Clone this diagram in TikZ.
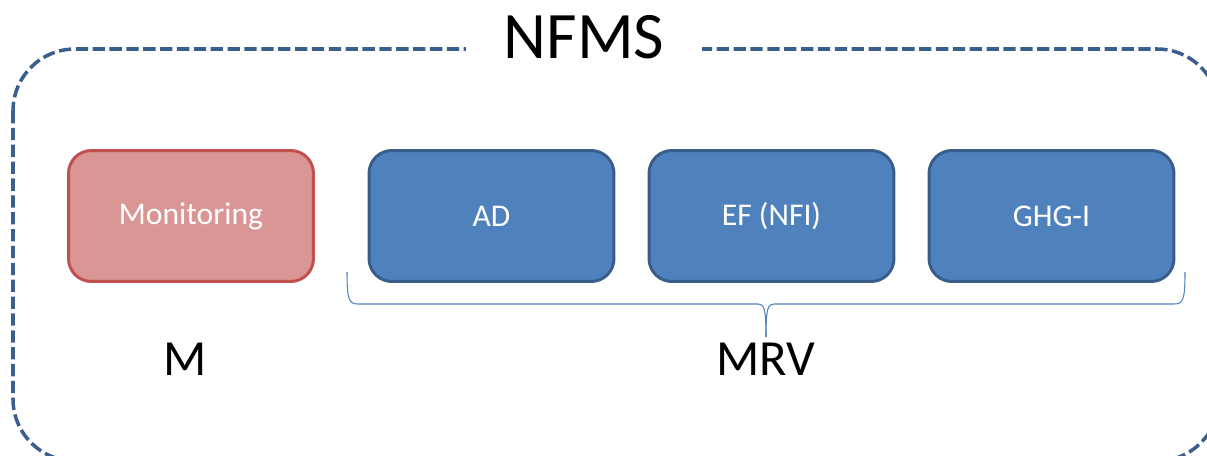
\documentclass[tikz,border=0pt]{standalone}
\usepackage{fontspec}
\setmainfont{Carlito}
\usepackage{xcolor}
\usetikzlibrary{positioning, calc}
\definecolor{frameblue}{HTML}{3A5F8C}
\definecolor{boxblue}{HTML}{4F81BD}
\definecolor{boxblueline}{HTML}{385D8A}
\definecolor{boxred}{HTML}{D99694}
\definecolor{boxredline}{HTML}{C0504D}

\begin{document}
\begin{tikzpicture}[x=0.02cm, y=-0.02cm,
  part/.style={rectangle, rounded corners=13pt, fill=#1, line width=1.7pt,
    minimum width=4.9cm, minimum height=2.62cm, text=white,
    font=\fontsize{18}{21}\selectfont},
  tag/.style={font=\fontsize{#1}{#1}\selectfont, text=black}
]
  \useasboundingbox (0,0) rectangle (1207,456);

  % Outer frame
  \draw[frameblue, line width=2pt, dash pattern=on 7pt off 2.6pt, rounded corners=1.24cm]
    (13,49) rectangle (1219,461);
  \node[tag=37.8, fill=white, minimum width=4.74cm, minimum height=1.2cm] (nfms) at (584,37) {NFMS};

  % Monitoring
  \node[part=boxred, draw=boxredline] (mon) at (191,216) {Monitoring};
  \node[tag=28.8] (m) at (185,359) {M};

  % MRV
  \node[part=boxblue, draw=boxblueline] (ad) at (491.5,216) {AD};
  \node[part=boxblue, draw=boxblueline] (ef) at (771.5,216) {EF (NFI)};
  \node[part=boxblue, draw=boxblueline] (ghg) at (1051.5,216) {GHG-I};
  \node[tag=28.8] (mrv) at (766,359) {MRV};

  % Brace
  \coordinate (bl) at (347,272);
  \coordinate (br) at (1185,272);
  \coordinate (bt) at (766,337);
  \draw[boxblue, line width=0.6pt]
    (bl) .. controls (347,300) and (349,304) .. (358,304)
    -- (758,304) .. controls (764,304) and (766,308) .. (bt);
  \draw[boxblue, line width=0.6pt]
    (br) .. controls (1185,300) and (1183,304) .. (1174,304)
    -- (774,304) .. controls (768,304) and (766,308) .. (bt);
\end{tikzpicture}
\end{document}
